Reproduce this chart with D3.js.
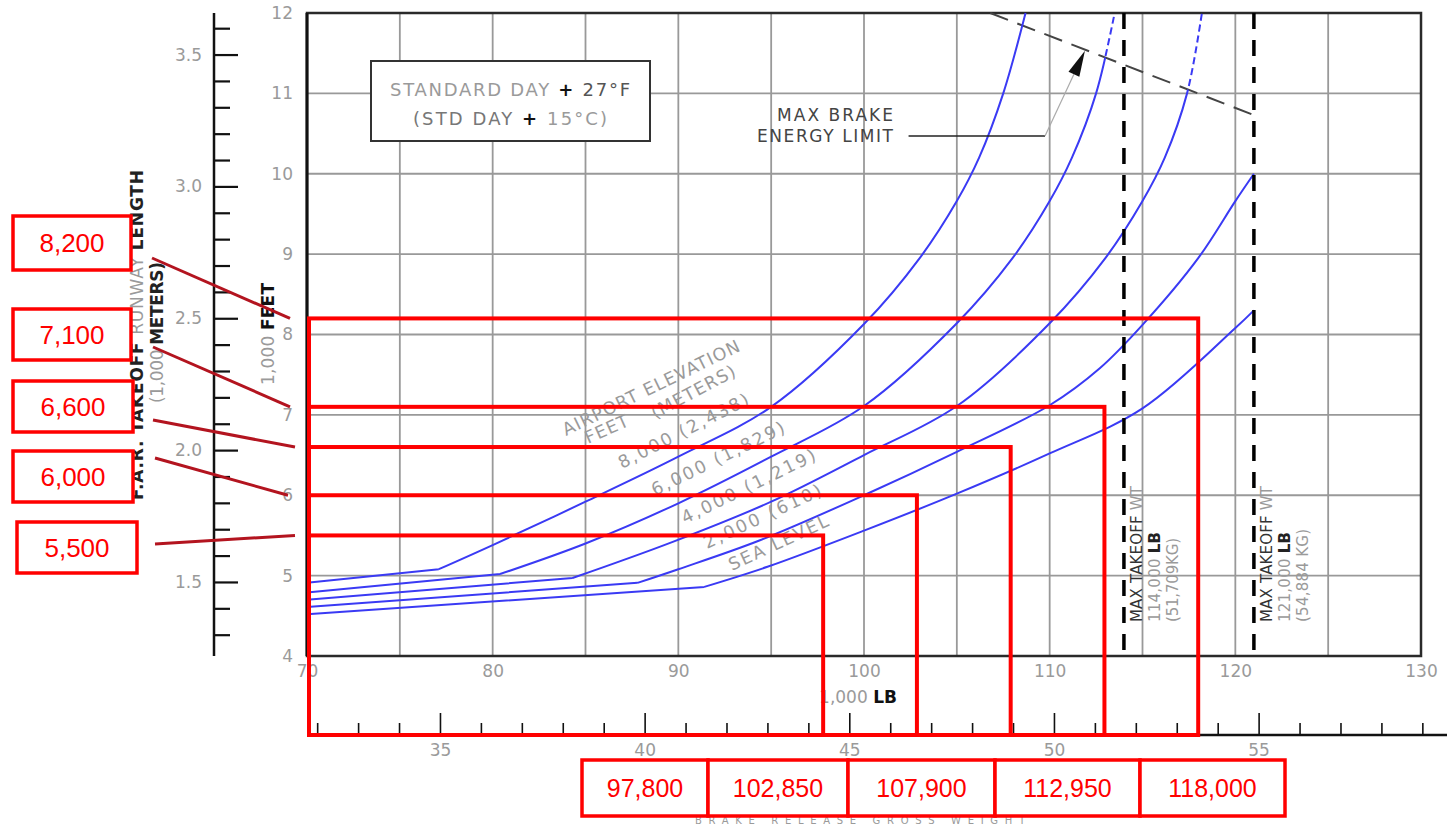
<!DOCTYPE html>
<html>
<head>
<meta charset="utf-8">
<script src="https://cdn.jsdelivr.net/npm/d3@7"></script>
<style>
  html, body { margin: 0; padding: 0; background: #fff; }
  svg { display: block; }
</style>
</head>
<body>
<svg id="chart" width="1447" height="825"></svg>
<script>
// ---- Takeoff runway length vs. brake release weight (standard day + 27°F) ----

// Airport-elevation curves: [weight (1,000 lb), runway length (1,000 ft)]
const curveSeaLevel = [[70,4.52],[91.4,4.86],[94.8,5.11],[100,5.56],[105,6.02],[110,6.52],[115,7.08],[120,8.08],[121,8.30]];
const curve2000 = [[70,4.61],[87.8,4.91],[90,5.08],[94.4,5.44],[100,6.00],[105,6.54],[110,7.12],[112.7,7.58],[115,8.12],[118,8.95],[120,9.66],[121,10.00]];
const curve4000 = [[70,4.70],[84.3,4.97],[89.7,5.42],[95,5.92],[100,6.50],[105,7.11],[110,8.14],[113,8.95],[115,9.66],[116.2,10.20],[117.4,11.00],[118.2,12.00]];
const curve6000 = [[70,4.79],[80.4,5.02],[85,5.40],[90,5.90],[95,6.48],[100,7.11],[105,8.14],[108,8.95],[110,9.66],[111.2,10.20],[112.5,11.00],[113.5,12.00]];
const curve8000 = [[70,4.91],[77.1,5.08],[80,5.38],[85,5.92],[90,6.48],[95,7.10],[100,8.13],[103,8.95],[105,9.66],[106.2,10.20],[107.5,11.00],[108.7,12.00]];

// Max takeoff weights (1,000 lb) and max brake energy limit line
const mtowLb = [114, 121];
const brakeLimit = [[106.8,12.0],[121,10.73]];

// Readings marked on the chart
const readWeightLb = [97800, 102850, 107900, 112950, 118000];
const readRunwayFt = [5500, 6000, 6600, 7100, 8200];

// Tick values
const feetTicks = [4,5,6,7,8,9,10,11,12];
const lbTicks = [70,80,90,100,110,120,130];
const meterMajor = [1.5,2.0,2.5,3.0,3.5];
const meterMinor = [1.3,1.4,1.6,1.7,1.8,1.9,2.1,2.2,2.3,2.4,2.6,2.7,2.8,2.9,3.1,3.2,3.3,3.4,3.6];
const kgMajor = [35,40,45,50,55];
const kgMinor = [32,33,34,36,37,38,39,41,42,43,44,46,47,48,49,51,52,53,54,56,57,58,59];
const gridLb = [75,80,85,90,95,100,105,110,115,120,125];
const gridFt = [5,6,7,8,9,10,11];

const FT_PER_M = 3.28084, LB_PER_KG = 2.20462;
const GRAY = "#9a9a9a", DARK = "#2a2a2a", BLUE = "#3a3af4", RED = "#ff0000", DARKRED = "#b3141f";
const FONT = "DejaVu Sans";

const svg = d3.select("#chart");

const x = d3.scaleLinear().domain([70,130]).range([307,1421]);
const y = d3.scaleLinear().domain([4,12]).range([656,13]);
const yM = d3.scaleLinear().domain([4/FT_PER_M, 12/FT_PER_M]).range([656,13]);
const xKg = d3.scaleLinear().domain([70/LB_PER_KG, 130/LB_PER_KG]).range([307,1421]);

// ---- grid ----
const grid = svg.append("g").attr("stroke", "#999").attr("stroke-width", 1.8);
grid.selectAll("line.v").data(gridLb).join("line")
  .attr("x1", d => x(d)).attr("x2", d => x(d)).attr("y1", y(12)).attr("y2", y(4));
grid.selectAll("line.h").data(gridFt).join("line")
  .attr("x1", x(70)).attr("x2", x(130)).attr("y1", d => y(d)).attr("y2", d => y(d));

// ---- frame ----
svg.append("rect").attr("x", x(70)).attr("y", y(12))
  .attr("width", x(130) - x(70)).attr("height", y(4) - y(12))
  .attr("fill", "none").attr("stroke", DARK).attr("stroke-width", 2.5);
svg.append("line").attr("x1", x(70)).attr("x2", x(70)).attr("y1", y(12)).attr("y2", y(4))
  .attr("stroke", "#111").attr("stroke-width", 3);

// ---- condition box ----
const cond = svg.append("g");
cond.append("rect").attr("x", 371).attr("y", 61).attr("width", 279).attr("height", 80)
  .attr("fill", "#fff").attr("stroke", "#333").attr("stroke-width", 2);
function condLine(yy, len, parts) {
  const t = cond.append("text").attr("x", 510).attr("y", yy).attr("text-anchor", "middle")
    .attr("font-family", FONT).attr("font-size", 18).attr("dominant-baseline", "central")
    .attr("textLength", len).attr("lengthAdjust", "spacing");
  parts.forEach(p => t.append("tspan").attr("fill", p[1]).attr("font-weight", p[2] || "normal").text(p[0]));
}
condLine(89, 240, [["STANDARD DAY ", GRAY], ["+", "#111", "bold"], [" 27°F", "#555"]]);
condLine(118, 194, [["(STD DAY ", "#777"], ["+", "#111", "bold"], [" 15°C)", GRAY]]);

// ---- brake energy limit ----
const bx0 = x(brakeLimit[0][0]), by0 = y(brakeLimit[0][1]);
const bx1 = x(brakeLimit[1][0]), by1 = y(brakeLimit[1][1]);
const bm = (by1 - by0) / (bx1 - bx0);
const yAt = X => by0 + bm * (X - bx0);
const defs = svg.append("defs");
defs.append("clipPath").attr("id", "aboveBrake").append("polygon")
  .attr("points", [[0, yAt(0)], [1447, yAt(1447)], [1447, -50], [0, -50]].join(" "));
defs.append("clipPath").attr("id", "belowBrake").append("polygon")
  .attr("points", [[0, yAt(0)], [1447, yAt(1447)], [1447, 900], [0, 900]].join(" "));

svg.append("line").attr("x1", bx0).attr("y1", by0).attr("x2", bx1).attr("y2", by1)
  .attr("stroke", "#444").attr("stroke-width", 2).attr("stroke-dasharray", "19,10");

// ---- elevation curves: straight run to the break point, smooth climb after it ----
const rise = d3.line().x(d => x(d[0])).y(d => y(d[1])).curve(d3.curveCatmullRom.alpha(0.5));
const flat = d3.line().x(d => x(d[0])).y(d => y(d[1]));
const curves = [
  { data: curve8000, dashAbove: false },
  { data: curve6000, dashAbove: true },
  { data: curve4000, dashAbove: true },
  { data: curve2000, dashAbove: false },
  { data: curveSeaLevel, dashAbove: false }
];
const cg = svg.append("g").attr("fill", "none").attr("stroke", BLUE).attr("stroke-width", 2);
curves.forEach(c => {
  const d = flat(c.data.slice(0, 2)) + rise(c.data.slice(1));
  if (c.dashAbove) {
    cg.append("path").attr("d", d).attr("clip-path", "url(#belowBrake)");
    cg.append("path").attr("d", d).attr("clip-path", "url(#aboveBrake)").attr("stroke-dasharray", "7,4");
  } else {
    cg.append("path").attr("d", d);
  }
});

// ---- max takeoff weight lines ----
svg.append("g").selectAll("line").data(mtowLb).join("line")
  .attr("x1", d => x(d)).attr("x2", d => x(d)).attr("y1", y(12)).attr("y2", y(4))
  .attr("stroke", "#000").attr("stroke-width", 3.5).attr("stroke-dasharray", "16,11");

// ---- rotated text helper ----
function rotText(px, py, angle, len, parts, size) {
  const t = svg.append("text")
    .attr("transform", `translate(${px},${py}) rotate(${angle})`)
    .attr("font-family", FONT).attr("font-size", size || 16)
    .attr("textLength", len).attr("lengthAdjust", "spacing");
  parts.forEach(p => t.append("tspan").attr("fill", p[1]).attr("font-weight", p[2] || "normal").text(p[0]));
  return t;
}
function vText(cx, y0, len, parts, size) {
  return rotText(cx, y0, -90, len, parts, size).attr("dominant-baseline", "central");
}

// curve labels
rotText(566, 436, -26, 195, [["AIRPORT ELEVATION", GRAY]], 17.5);
rotText(655, 419, -28, 93, [["(METERS)", GRAY]], 17.5);
rotText(588, 444, -24, 46, [["FEET", GRAY]], 17.5);
rotText(622, 469, -27, 144, [["8,000 (2,438)", GRAY]], 17.5);
rotText(655, 496, -26, 146, [["6,000 (1,829)", GRAY]], 17.5);
rotText(685, 524, -26, 147, [["4,000 (1,219)", GRAY]], 17.5);
rotText(707, 549, -25, 128, [["2,000 (610)", GRAY]], 17.5);
rotText(732, 571, -25, 108, [["SEA LEVEL", GRAY]], 17.5);

// max takeoff weight labels
vText(1137, 622, 136, [["MAX TAKEOFF ", "#333"], ["WT", GRAY]], 15);
vText(1155, 622, 90, [["114,000 ", GRAY], ["LB", "#222", "bold"]], 15);
vText(1173, 622, 84, [["(51,709KG)", GRAY]], 15);
vText(1267, 622, 136, [["MAX TAKEOFF ", "#333"], ["WT", GRAY]], 15);
vText(1285, 622, 90, [["121,000 ", GRAY], ["LB", "#222", "bold"]], 15);
vText(1303, 622, 93, [["(54,884 KG)", GRAY]], 15);

// brake energy annotation
svg.append("text").attr("x", 893).attr("y", 115).attr("text-anchor", "end")
  .attr("dominant-baseline", "central").attr("font-family", FONT).attr("font-size", 17)
  .attr("fill", "#444").attr("textLength", 116).attr("lengthAdjust", "spacing").text("MAX BRAKE");
svg.append("text").attr("x", 893).attr("y", 136).attr("text-anchor", "end")
  .attr("dominant-baseline", "central").attr("font-family", FONT).attr("font-size", 17)
  .attr("fill", "#444").attr("textLength", 136).attr("lengthAdjust", "spacing").text("ENERGY LIMIT");
const tailX = x(109.75), tailY = y(10.47);
const tipX = x(111.9), tipY = y(11.53);
svg.append("line").attr("x1", x(102.4)).attr("x2", tailX).attr("y1", tailY).attr("y2", tailY)
  .attr("stroke", "#222").attr("stroke-width", 1.5);
const ang = Math.atan2(tipY - tailY, tipX - tailX);
const headLen = 26, headW = 6;
const baseX = tipX - headLen * Math.cos(ang), baseY = tipY - headLen * Math.sin(ang);
svg.append("line").attr("x1", tailX).attr("y1", tailY).attr("x2", baseX).attr("y2", baseY)
  .attr("stroke", "#aaa").attr("stroke-width", 1.2);
svg.append("polygon").attr("fill", "#111").attr("points", [
  [tipX, tipY],
  [baseX + headW * Math.sin(ang), baseY - headW * Math.cos(ang)],
  [baseX - headW * Math.sin(ang), baseY + headW * Math.cos(ang)]
].join(" "));

// ---- axes ----
function styleAxisText(g, size, color) {
  g.select(".domain").remove();
  g.selectAll("text").attr("font-family", FONT).attr("font-size", size).attr("fill", color);
}
// feet (left of plot)
svg.append("g").attr("transform", `translate(${x(70)},0)`)
  .call(d3.axisLeft(y).tickValues(feetTicks).tickSize(0).tickPadding(14).tickFormat(d3.format("d")))
  .call(g => styleAxisText(g, 17, GRAY));
// weight, 1,000 lb
svg.append("g").attr("transform", `translate(0,${y(4)})`)
  .call(d3.axisBottom(x).tickValues(lbTicks).tickSize(0).tickPadding(9).tickFormat(d3.format("d")))
  .call(g => styleAxisText(g, 17, GRAY));
// meters axis
const mAxisX = 214;
svg.append("line").attr("x1", mAxisX).attr("x2", mAxisX).attr("y1", y(12)).attr("y2", y(4))
  .attr("stroke", "#111").attr("stroke-width", 2.5);
svg.append("g").attr("transform", `translate(${mAxisX},0)`)
  .call(d3.axisRight(yM).tickValues(meterMinor).tickSize(16).tickFormat(""))
  .call(g => { g.select(".domain").remove(); g.selectAll("line").attr("stroke", "#111").attr("stroke-width", 2.2); });
svg.append("g").attr("transform", `translate(${mAxisX},0)`)
  .call(d3.axisRight(yM).tickValues(meterMajor).tickSize(24).tickFormat(""))
  .call(g => { g.select(".domain").remove(); g.selectAll("line").attr("stroke", "#111").attr("stroke-width", 2.2); });
svg.append("g").attr("transform", `translate(${mAxisX},0)`)
  .call(d3.axisLeft(yM).tickValues(meterMajor).tickSize(0).tickPadding(12).tickFormat(d3.format(".1f")))
  .call(g => styleAxisText(g, 17, GRAY));
// kg axis
const kgY = 735;
svg.append("line").attr("x1", x(70)).attr("x2", 1447).attr("y1", kgY).attr("y2", kgY)
  .attr("stroke", "#111").attr("stroke-width", 2.5);
svg.append("g").attr("transform", `translate(0,${kgY})`)
  .call(d3.axisTop(xKg).tickValues(kgMinor).tickSize(12).tickFormat(""))
  .call(g => { g.select(".domain").remove(); g.selectAll("line").attr("stroke", "#111").attr("stroke-width", 1.6); });
svg.append("g").attr("transform", `translate(0,${kgY})`)
  .call(d3.axisTop(xKg).tickValues(kgMajor).tickSize(22).tickFormat(""))
  .call(g => { g.select(".domain").remove(); g.selectAll("line").attr("stroke", "#111").attr("stroke-width", 1.6); });
svg.append("g").attr("transform", `translate(0,${kgY})`)
  .call(d3.axisBottom(xKg).tickValues(kgMajor).tickSize(0).tickPadding(9).tickFormat(d3.format("d")))
  .call(g => styleAxisText(g, 17, GRAY));

// axis titles
const lbTitle = svg.append("text").attr("x", 858).attr("y", 697).attr("text-anchor", "middle")
  .attr("dominant-baseline", "central").attr("font-family", FONT).attr("font-size", 17);
lbTitle.append("tspan").attr("fill", GRAY).text("1,000 ");
lbTitle.append("tspan").attr("fill", "#111").attr("font-weight", "bold").text("LB");

vText(137, 500, 330, [["F.A.R. TAKEOFF ", "#222", "bold"], ["RUNWAY ", GRAY], ["LENGTH", "#222", "bold"]], 17);
vText(157, 403, 141, [["(1,000 ", GRAY], ["METERS)", "#222", "bold"]], 17);
vText(268, 385, 102, [["1,000 ", GRAY], ["FEET", "#111", "bold"]], 17);

svg.append("text").attr("x", 860).attr("y", 824).attr("text-anchor", "middle")
  .attr("font-family", FONT).attr("font-size", 10).attr("fill", GRAY)
  .attr("textLength", 330).attr("lengthAdjust", "spacing")
  .text("BRAKE RELEASE GROSS WEIGHT");

// ---- readings: red outlines, labels, leaders ----
const reads = readWeightLb.map((w, i) => ({ w: w / 1000, r: readRunwayFt[i] / 1000, i }));
svg.append("g").selectAll("rect").data(reads).join("rect")
  .attr("x", x(70) + 2).attr("y", d => y(d.r))
  .attr("width", d => x(d.w) - x(70) - 2).attr("height", d => kgY - y(d.r))
  .attr("fill", "none").attr("stroke", RED).attr("stroke-width", 4);

// left label boxes (runway length)
const leftBoxes = [
  { bx: 17, by: 522, bw: 120, bh: 51, lx: 155, ly: 544, ex: 295 },
  { bx: 13, by: 451, bw: 120, bh: 51, lx: 155, ly: 458, ex: 288 },
  { bx: 13, by: 381, bw: 120, bh: 51, lx: 153, ly: 420, ex: 295 },
  { bx: 13, by: 309, bw: 118, bh: 51, lx: 153, ly: 347, ex: 290 },
  { bx: 13, by: 216, bw: 118, bh: 54, lx: 152, ly: 258, ex: 290 }
];
const fmt = d3.format(",");
reads.forEach(d => {
  const b = leftBoxes[d.i];
  svg.append("line").attr("x1", b.lx).attr("y1", b.ly).attr("x2", b.ex).attr("y2", y(d.r))
    .attr("stroke", DARKRED).attr("stroke-width", 3);
  svg.append("rect").attr("x", b.bx).attr("y", b.by).attr("width", b.bw).attr("height", b.bh)
    .attr("fill", "#fff").attr("stroke", RED).attr("stroke-width", 3.5);
  svg.append("text").attr("x", b.bx + b.bw / 2).attr("y", b.by + b.bh / 2)
    .attr("text-anchor", "middle").attr("dominant-baseline", "central")
    .attr("font-family", "Liberation Sans").attr("font-size", 26).attr("fill", RED)
    .text(fmt(readRunwayFt[d.i]));
});

// bottom label boxes (weight)
const bottomBoxes = [[582,126],[708,140],[848,147],[995,145],[1140,145]];
reads.forEach(d => {
  const [bx, bw] = bottomBoxes[d.i];
  svg.append("rect").attr("x", bx).attr("y", 760).attr("width", bw).attr("height", 56)
    .attr("fill", "#fff").attr("stroke", RED).attr("stroke-width", 3.5);
  svg.append("text").attr("x", bx + bw / 2).attr("y", 788)
    .attr("text-anchor", "middle").attr("dominant-baseline", "central")
    .attr("font-family", "Liberation Sans").attr("font-size", 25).attr("fill", RED)
    .text(fmt(readWeightLb[d.i]));
});
</script>
</body>
</html>
